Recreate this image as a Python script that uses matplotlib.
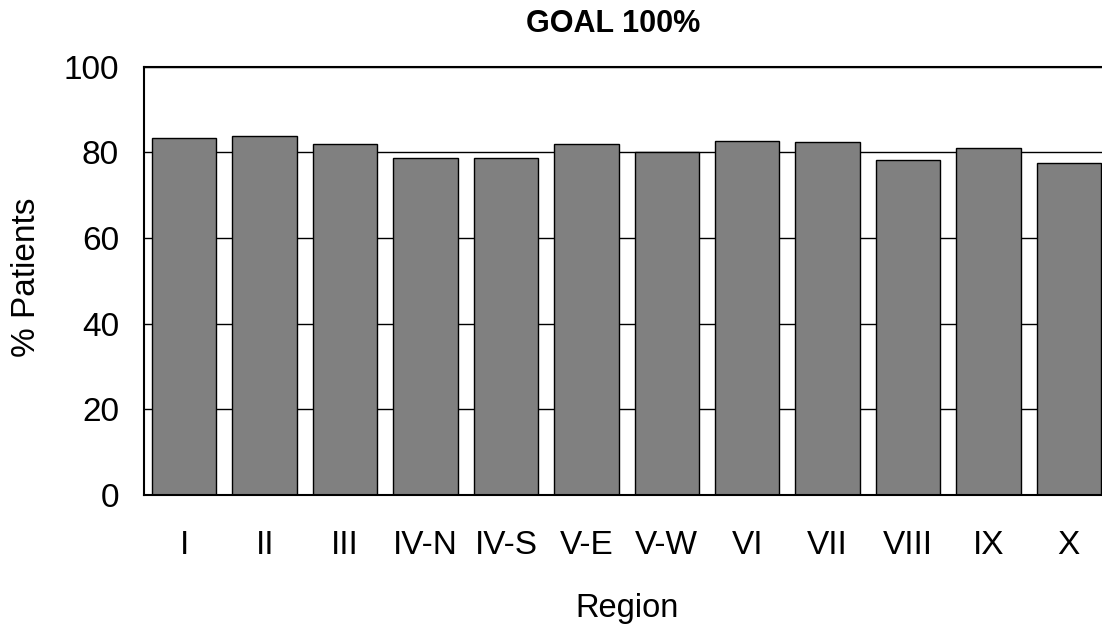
import numpy as np
import matplotlib.pyplot as plt

plt.rcParams['font.family'] = ['Liberation Sans', 'DejaVu Sans']

regions = ["I", "II", "III", "IV-N", "IV-S", "V-E", "V-W", "VI", "VII", "VIII", "IX", "X"]
percent_patients = [83.3, 83.8, 81.9, 78.6, 78.6, 81.9, 80.0, 82.7, 82.3, 78.1, 80.9, 77.6]
y_ticks = [0, 20, 40, 60, 80, 100]

fig = plt.figure(figsize=(11.02, 6.26), dpi=100)
# plot area runs slightly past the right edge of the figure
ax = fig.add_axes([0.1307, 0.2093, 0.8757, 0.6842])

x = np.arange(len(regions))
ax.bar(x, percent_patients, width=0.8, color='#808080', edgecolor='black',
       linewidth=1.0, zorder=2)

ax.set_xlim(-0.5, len(regions) - 0.5)
ax.set_ylim(0, 100)
ax.set_yticks(y_ticks)
ax.set_xticks(x)
ax.set_xticklabels(regions)
ax.yaxis.grid(True, color='black', linewidth=1.0, zorder=0)
ax.set_axisbelow(True)
ax.tick_params(axis='both', length=0, labelsize=24)
ax.tick_params(axis='y', pad=18)
ax.tick_params(axis='x', pad=25)
for side in ['left', 'bottom', 'top', 'right']:
    ax.spines[side].set_linewidth(1.5)

fig.text(0.556, 0.962, "GOAL 100%", fontsize=22, fontweight='bold',
         ha='center', va='center')
fig.text(0.0245, 0.557, "% Patients", fontsize=24, rotation=90,
         ha='center', va='center')
fig.text(0.569, 0.028, "Region", fontsize=23.5, ha='center', va='center')

plt.savefig("out.png", dpi=100)
